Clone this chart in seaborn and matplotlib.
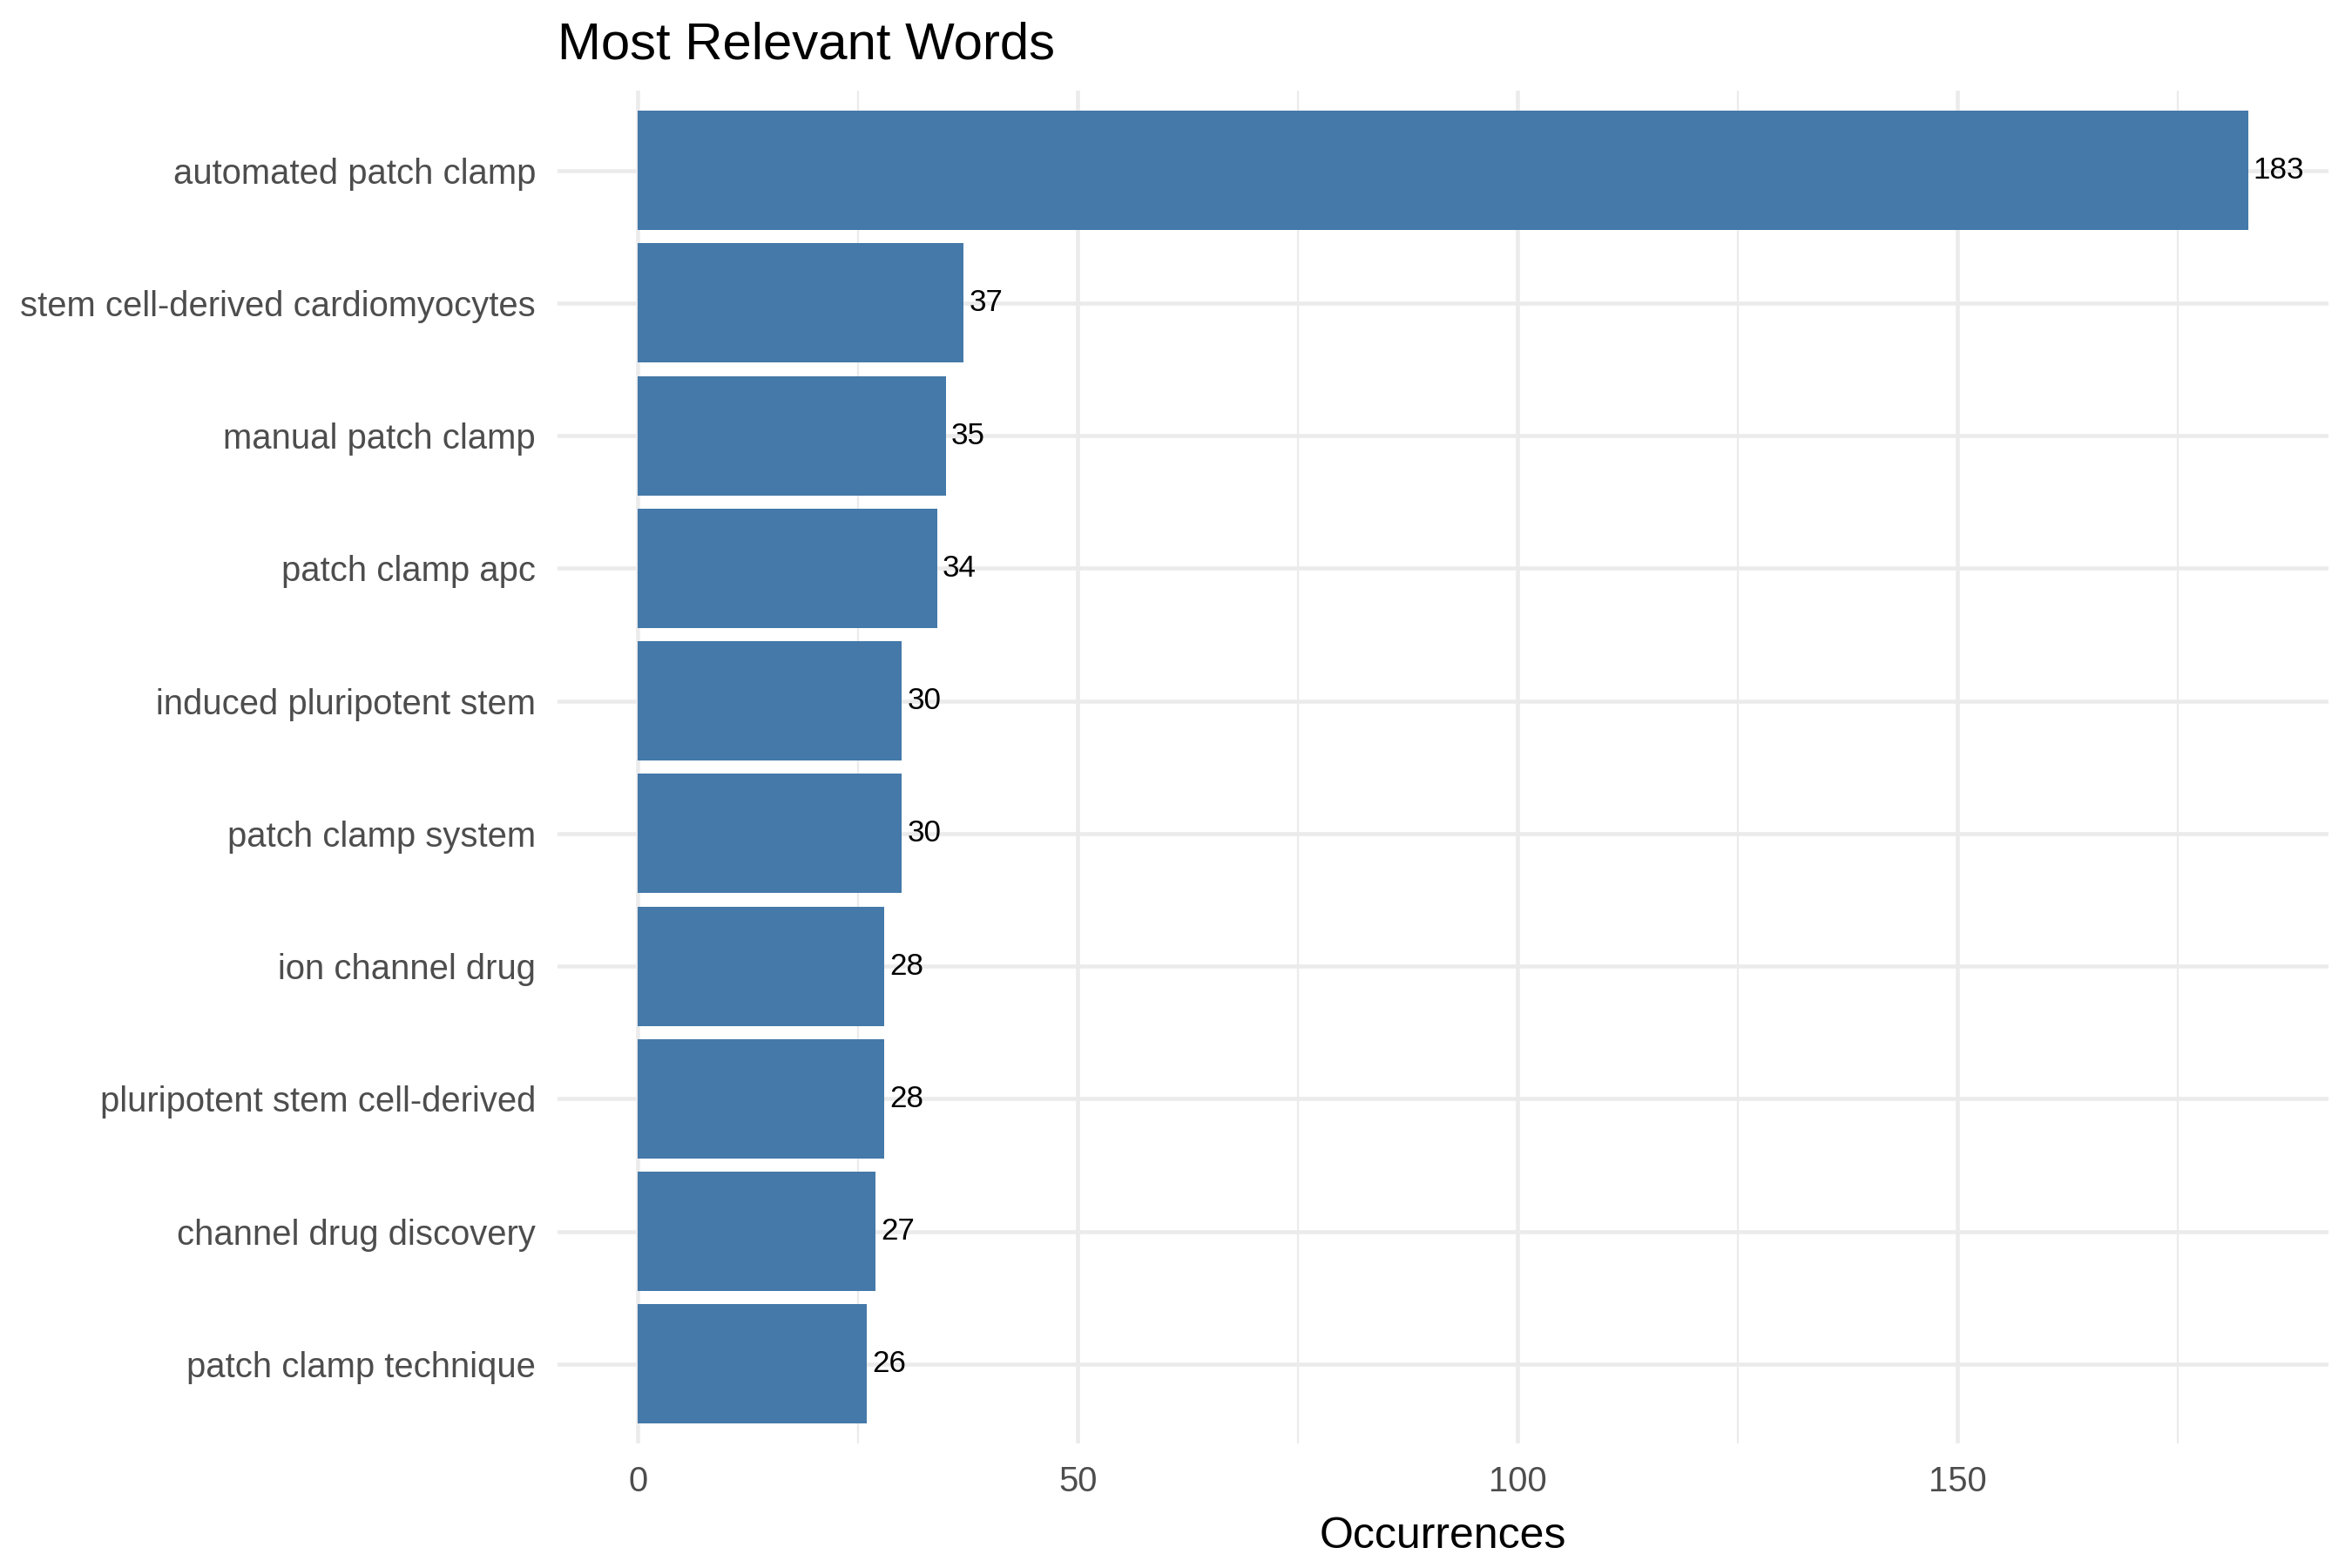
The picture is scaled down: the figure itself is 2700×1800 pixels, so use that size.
import matplotlib
matplotlib.use("Agg")
import matplotlib.pyplot as plt
import seaborn as sns
import pandas as pd
from matplotlib.ticker import FixedLocator

terms = [
    "automated patch clamp",
    "stem cell-derived cardiomyocytes",
    "manual patch clamp",
    "patch clamp apc",
    "induced pluripotent stem",
    "patch clamp system",
    "ion channel drug",
    "pluripotent stem cell-derived",
    "channel drug discovery",
    "patch clamp technique",
]
occurrences = [183, 37, 35, 34, 30, 30, 28, 28, 27, 26]

title = "Most Relevant Words"
xlabel = "Occurrences"
x_major = [0, 50, 100, 150]
x_minor = [25, 75, 125, 175]

df = pd.DataFrame({"term": terms, "occ": occurrences})

sns.set_theme(style="white")
plt.rcParams["font.family"] = ["Liberation Sans", "DejaVu Sans"]

fig = plt.figure(figsize=(9, 6), dpi=300)
ax = fig.add_axes([0.237, 0.0794, 0.990 - 0.237, 0.942 - 0.0794])

sns.barplot(data=df, x="occ", y="term", order=terms, orient="h",
            color="#4479A9", saturation=1, width=0.9, linewidth=0,
            ax=ax, zorder=3)

n = len(terms)
ax.set_ylim(n - 0.4, -0.6)
span = max(occurrences)
ax.set_xlim(-0.05 * span, span * 1.05)

ax.xaxis.set_major_locator(FixedLocator(x_major))
ax.xaxis.set_minor_locator(FixedLocator(x_minor))
ax.grid(axis="x", which="major", color="#EBEBEB", linewidth=1.1, zorder=0)
ax.grid(axis="x", which="minor", color="#EBEBEB", linewidth=0.55, zorder=0)
ax.grid(axis="y", which="major", color="#EBEBEB", linewidth=1.1, zorder=0)
ax.set_axisbelow(True)

for s in ax.spines.values():
    s.set_visible(False)

ax.tick_params(axis="both", which="both", length=0)
ax.tick_params(axis="y", labelsize=9.6, labelcolor="#4D4D4D", pad=6)
ax.tick_params(axis="x", labelsize=9.6, labelcolor="#4D4D4D", pad=6)

ax.set_ylabel("")
ax.set_xlabel(xlabel, fontsize=12, color="black", labelpad=5)

for c in ax.containers:
    ax.bar_label(c, fmt="%d", padding=1.5, fontsize=8.4, color="black")

fig.text(0.237, 1 - 68 / 1800, title, fontsize=14.4, color="black",
         ha="left", va="baseline")

fig.savefig("out.png", dpi=300, facecolor="white")
